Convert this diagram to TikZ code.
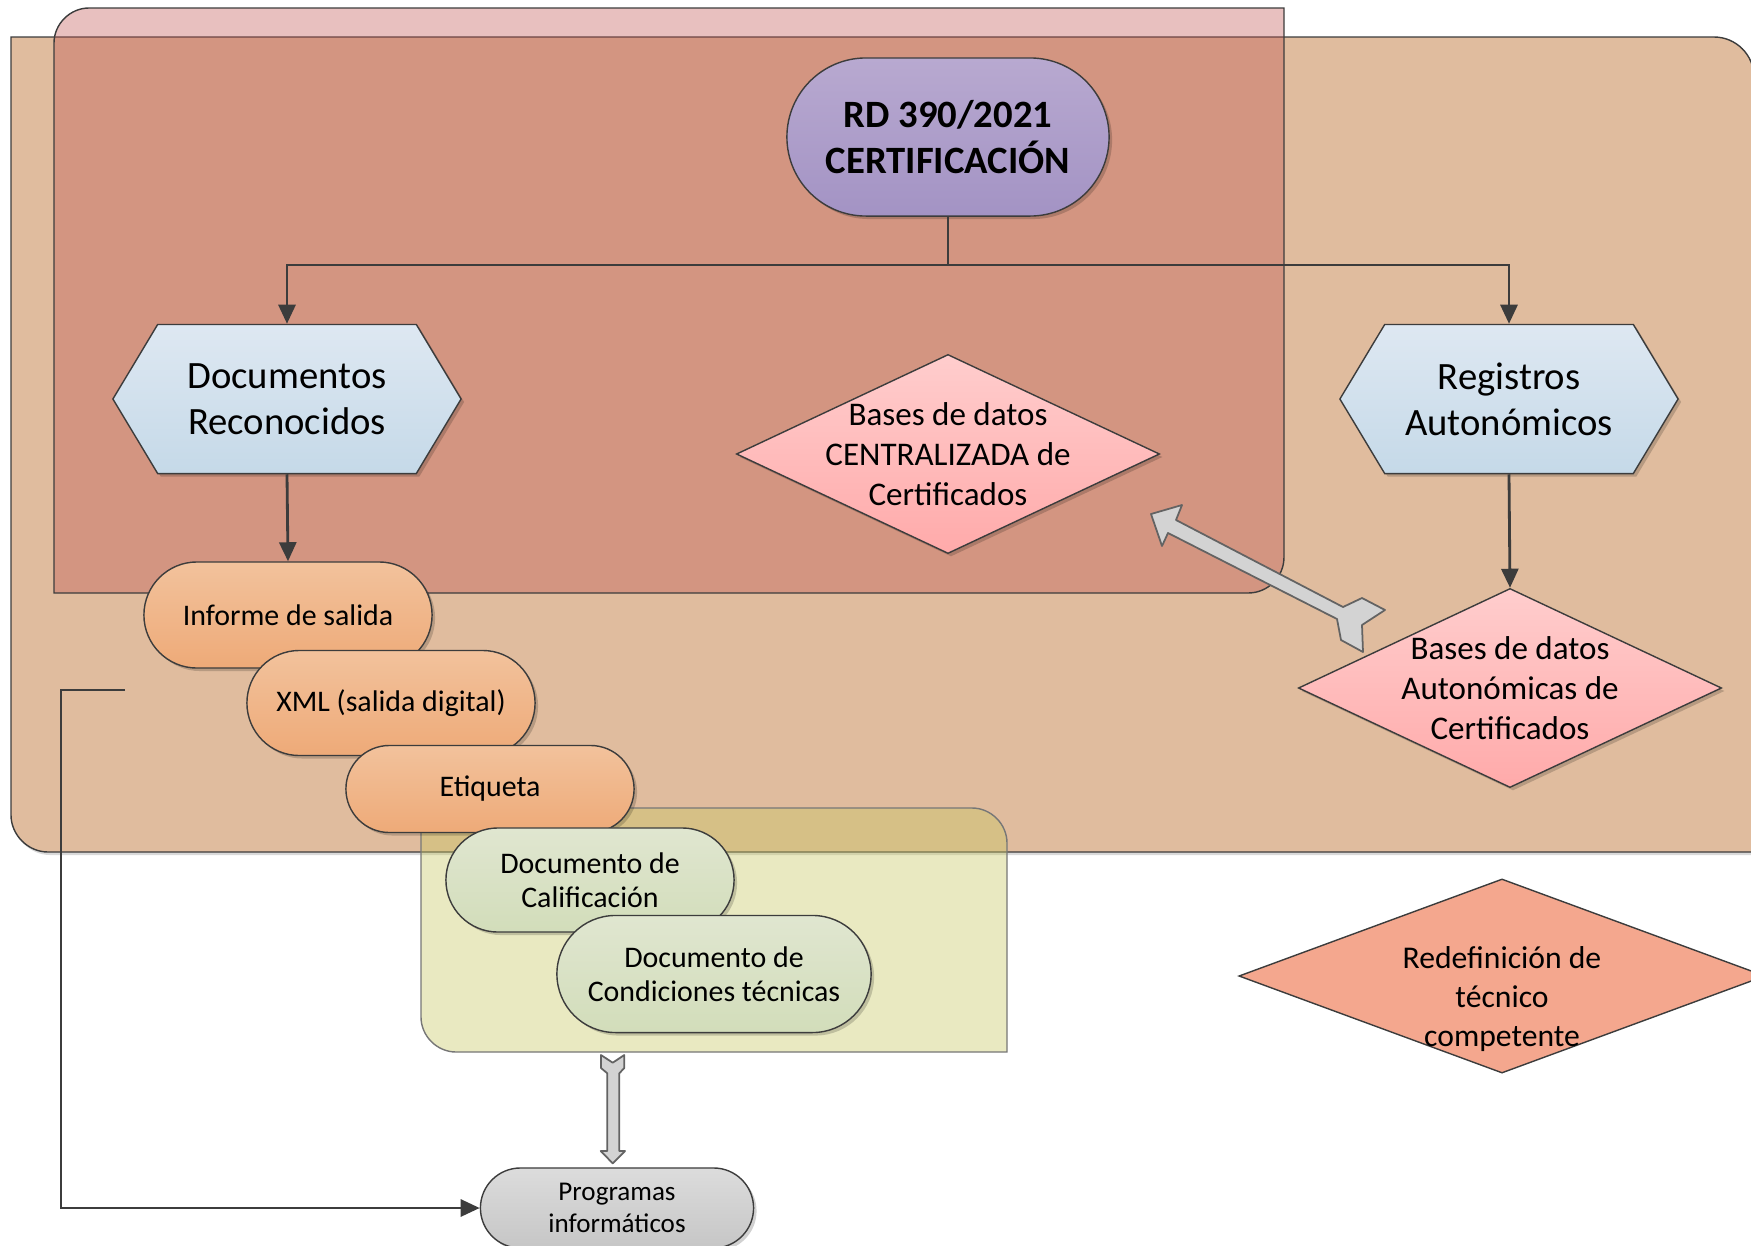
\documentclass[tikz,border=0pt]{standalone}
\usepackage{fontspec}
\setmainfont{Carlito}
\usetikzlibrary{shapes.misc,shapes.symbols,shapes.geometric,arrows.meta,shadows}

\definecolor{tanfill}{HTML}{E0BC9E}
\definecolor{redfill}{RGB}{190,80,78}
\definecolor{yelfill}{RGB}{200,200,100}
\definecolor{edge}{HTML}{3C3C3C}
\definecolor{blockfill}{HTML}{D3D3D3}

\tikzset{
  shade/.style={drop shadow={shadow xshift=0.03cm,shadow yshift=-0.03cm,fill=black,opacity=0.18}},
  rdbox/.style={rounded rectangle,draw=edge,shade,
    top color={rgb,255:red,184;green,169;blue,208},bottom color={rgb,255:red,163;green,147;blue,196},
    minimum width=3.22cm,minimum height=1.58cm,align=center,font=\fontsize{11}{13}\selectfont\bfseries},
  hexbox/.style={signal,signal to=west and east,signal pointer angle=118,draw=edge,shade,
    top color={rgb,255:red,222;green,232;blue,242},bottom color={rgb,255:red,197;green,217;blue,232},
    minimum width=3.48cm,minimum height=1.49cm,align=center,font=\fontsize{11}{13}\selectfont},
  dbbox/.style={diamond,draw=edge,shade,
    top color={rgb,255:red,255;green,205;blue,205},bottom color={rgb,255:red,255;green,170;blue,170},
    minimum width=4.23cm,minimum height=1.99cm},
  dbtext/.style={align=center,font=\fontsize{9.4}{11.3}\selectfont},
  redefbox/.style={diamond,draw=edge,fill={rgb,255:red,244;green,167;blue,142},
    minimum width=5.26cm,minimum height=1.94cm},
  orangebox/.style={rounded rectangle,draw=edge,shade,
    top color={rgb,255:red,242;green,194;blue,156},bottom color={rgb,255:red,238;green,170;blue,120},
    minimum width=2.88cm,align=center,font=\fontsize{8.5}{9.8}\selectfont},
  greenbox/.style={rounded rectangle,draw=edge,shade,
    top color={rgb,255:red,224;green,230;blue,208},bottom color={rgb,255:red,210;green,221;blue,186},
    align=center,font=\fontsize{8.5}{9.8}\selectfont},
  graybox/.style={rounded rectangle,draw=edge,shade,
    top color={rgb,255:red,220;green,220;blue,220},bottom color={rgb,255:red,198;green,198;blue,198},
    align=center,font=\fontsize{7.7}{9.2}\selectfont},
  conn/.style={draw=edge,line width=0.8pt,-{Triangle[length=0.19cm,width=0.17cm]}},
  blockarrow/.style={draw=edge!80!white,fill=blockfill,line width=0.5pt,line join=round}
}

\begin{document}
\begin{tikzpicture}[x=0.01cm,y=-0.01cm,every node/.append style={inner sep=0pt}]
  \useasboundingbox (0,0) rectangle (1751,1245);

  % background boxes
  \draw[edge,fill=tanfill,drop shadow={shadow xshift=0.02cm,shadow yshift=-0.03cm,fill=black,opacity=0.15}]
    (11,37) -- (1714,37) .. controls (1736,37) and (1754,55) .. (1754,77)
    -- (1754,852) -- (48,852) .. controls (28,852) and (11,835) .. (11,815) -- cycle;
  \draw[edge,fill=redfill,fill opacity=0.36] (89,8) -- (1284,8) -- (1284,557)
    .. controls (1284,577) and (1268,593) .. (1248,593) -- (54,593) -- (54,43)
    .. controls (54,24) and (70,8) .. (89,8) -- cycle;
  \draw[edge!70!white,fill=yelfill,fill opacity=0.4] (421,808) -- (972,808)
    .. controls (991,808) and (1007,824) .. (1007,843) -- (1007,1052) -- (456,1052)
    .. controls (437,1052) and (421,1036) .. (421,1017) -- cycle;

  \node[rdbox] (rd) at (948,137) {RD 390/2021\\CERTIFICACIÓN};
  \node[hexbox] (docs) at (287,399) {Documentos\\Reconocidos};
  \node[hexbox,minimum width=3.38cm] (reg) at (1509,399) {Registros\\Autonómicos};
  \node[dbbox,label={[dbtext]center:Bases de datos\\CENTRALIZADA de\\Certificados}] (central) at (948,454) {};
  \node[dbbox,label={[dbtext]center:Bases de datos\\Autonómicas de\\Certificados}] (autodb) at (1510,688) {};
  \node[redefbox,label={[dbtext,font=\fontsize{9}{11}\selectfont,yshift=-0.23cm]center:Redefinición de\\técnico\\competente}] (redef) at (1502,976) {};

  \node[orangebox,minimum height=1.06cm] (informe) at (288,615) {Informe de salida};
  \node[orangebox,minimum height=1.05cm] (xml) at (391,703) {XML (salida digital)};
  \node[orangebox,minimum height=0.87cm] (etiqueta) at (490,789) {Etiqueta};
  \node[greenbox,minimum width=2.88cm,minimum height=1.04cm] (calif) at (590,880) {Documento de\\Calificación};
  \node[greenbox,minimum width=3.14cm,minimum height=1.17cm] (cond) at (714,974) {Documento de\\Condiciones técnicas};
  \node[graybox,minimum width=2.73cm,minimum height=0.80cm] (prog) at (617,1208) {Programas\\informáticos};

  % connectors
  \coordinate (split) at (948,265);
  \coordinate (loopstart) at (125,690);
  \draw[edge,line width=0.8pt] (rd.south) -- (split);
  \draw[conn] (split) -| (docs.north);
  \draw[conn] (split) -| (reg.north);
  \draw[conn] (docs.south) -- (informe.north);
  \draw[conn] (reg.south) -- (autodb.north);
  \draw[conn] (loopstart) -- ++(-64,0) |- (prog.west);

  % block arrows
  \draw[blockarrow] (1151,514) -- (1182,505) -- (1176,520) -- (1343,607) -- (1362,598) -- (1385,610)
    -- (1362,625) -- (1363,652) -- (1341,640) -- (1337,619) -- (1168,533) -- (1162,546) -- cycle;
  \draw[blockarrow] (601,1055) -- (612.7,1062.7) -- (624.3,1055) -- (624.3,1068) -- (619.3,1073.3)
    -- (619.3,1151) -- (625,1151) -- (612.7,1163.3) -- (600.7,1151) -- (607.3,1151) -- (607.3,1073.3)
    -- (601,1068) -- cycle;
\end{tikzpicture}
\end{document}
